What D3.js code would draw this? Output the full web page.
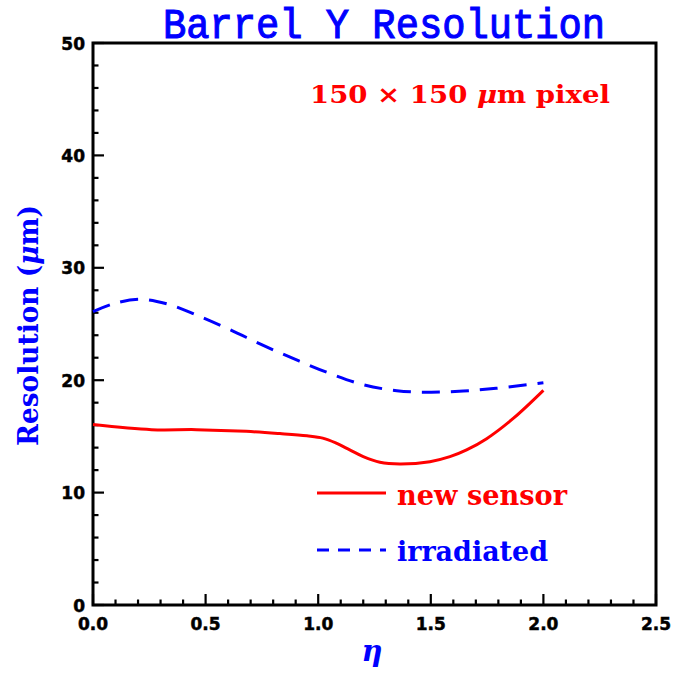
<!DOCTYPE html>
<html>
<head>
<meta charset="utf-8">
<script src="https://cdn.jsdelivr.net/npm/d3@7"></script>
<style>
  html, body { margin: 0; padding: 0; background: #fff; }
  svg { display: block; }
</style>
</head>
<body>
<svg id="chart" width="684" height="673"></svg>
<script>
// Pseudorapidity samples and resolution values (µm)
const etaNew = [0.0, 0.26, 0.46, 0.68, 0.83, 0.95, 1.02, 1.08, 1.14, 1.2, 1.274, 1.363, 1.496, 1.585, 1.659, 1.748, 1.866, 2.0];
const resNew = [16.05, 15.6, 15.6, 15.45, 15.25, 15.05, 14.85, 14.4, 13.8, 13.2, 12.7, 12.55, 12.75, 13.2, 13.8, 14.8, 16.6, 19.1];

const etaIrr = [0.0, 0.09, 0.209, 0.327, 0.46, 0.608, 0.756, 0.904, 1.052, 1.2, 1.349, 1.496, 1.644, 1.79, 2.0];
const resIrr = [26.1, 26.8, 27.2, 26.8, 25.8, 24.5, 23.1, 21.8, 20.6, 19.6, 19.07, 18.93, 19.04, 19.28, 19.78];

const xTicks = [0.0, 0.5, 1.0, 1.5, 2.0, 2.5];
const yTicks = [0, 10, 20, 30, 40, 50];

const seriesNames = ["new sensor", "irradiated"];
const seriesColors = ["#ff0000", "#0000ff"];

const svg = d3.select("#chart");
const m = { left: 93, right: 656, top: 43, bottom: 605 };

const x = d3.scaleLinear().domain([0, 2.5]).range([m.left, m.right]);
const y = d3.scaleLinear().domain([0, 50]).range([m.bottom, m.top]);

// Minor/major ticks drawn inward on the left and bottom axes
const axisColor = "#000";
const g = svg.append("g");

const xMinor = d3.range(0, 2.5001, 0.1);
const yMinor = d3.range(0, 50.001, 2);

g.selectAll(".xtick").data(xMinor).enter().append("line")
  .attr("x1", d => x(d)).attr("x2", d => x(d))
  .attr("y1", y(0))
  .attr("y2", d => y(0) - (Math.abs(d * 2 - Math.round(d * 2)) < 1e-6 ? 11 : 5.5))
  .attr("stroke", axisColor).attr("stroke-width", 2.2);

g.selectAll(".ytick").data(yMinor).enter().append("line")
  .attr("y1", d => y(d)).attr("y2", d => y(d))
  .attr("x1", x(0))
  .attr("x2", d => x(0) + (d % 10 === 0 ? 11 : 5.5))
  .attr("stroke", axisColor).attr("stroke-width", 2.2);

// Frame
g.append("rect")
  .attr("x", m.left).attr("y", m.top)
  .attr("width", m.right - m.left).attr("height", m.bottom - m.top)
  .attr("fill", "none").attr("stroke", axisColor).attr("stroke-width", 3);

// Tick labels
const tickFont = "'DejaVu Sans', sans-serif";
g.selectAll(".xlab").data(xTicks).enter().append("text")
  .attr("x", d => x(d)).attr("y", 630)
  .attr("text-anchor", "middle")
  .attr("font-family", tickFont).attr("font-weight", 700).attr("font-size", 17)
  .attr("stroke", "#000").attr("stroke-width", 0.5)
  .text(d => d.toFixed(1));

g.selectAll(".ylab").data(yTicks).enter().append("text")
  .attr("x", 85).attr("y", d => y(d) + 6.5)
  .attr("text-anchor", "end")
  .attr("font-family", tickFont).attr("font-weight", 700).attr("font-size", 17)
  .attr("stroke", "#000").attr("stroke-width", 0.5)
  .text(d => d);

// Curves
const line = d3.line().x(d => x(d[0])).y(d => y(d[1])).curve(d3.curveCatmullRom.alpha(0.5));

svg.append("path")
  .datum(d3.zip(etaNew, resNew))
  .attr("d", line)
  .attr("fill", "none").attr("stroke", seriesColors[0]).attr("stroke-width", 3);

svg.append("path")
  .datum(d3.zip(etaIrr, resIrr))
  .attr("d", line)
  .attr("fill", "none").attr("stroke", seriesColors[1]).attr("stroke-width", 3)
  .attr("stroke-dasharray", "18,11");

// Title
const serif = "'DejaVu Serif', serif";
svg.append("text")
  .attr("x", 163).attr("y", 38)
  .attr("textLength", 442).attr("lengthAdjust", "spacingAndGlyphs")
  .attr("font-family", "'Liberation Mono', monospace").attr("font-size", 43)
  .attr("fill", "#0000ff").attr("stroke", "#0000ff").attr("stroke-width", 1.1)
  .text("Barrel Y Resolution");

// Pixel size annotation
const ann = svg.append("text")
  .attr("x", 310).attr("y", 103)
  .attr("textLength", 300).attr("lengthAdjust", "spacingAndGlyphs")
  .attr("font-family", serif).attr("font-weight", 700).attr("font-size", 25)
  .attr("fill", "#ff0000");
ann.append("tspan").text("150 × 150 ");
ann.append("tspan").attr("font-style", "italic").text("μ");
ann.append("tspan").text("m pixel");

// Axis titles
svg.append("text")
  .attr("x", 372).attr("y", 661)
  .attr("text-anchor", "middle")
  .attr("font-family", serif).attr("font-style", "italic").attr("font-weight", 700).attr("font-size", 29)
  .attr("fill", "#0000ff")
  .text("η");

const yl = svg.append("text")
  .attr("transform", "translate(38,446) rotate(-90)")
  .attr("textLength", 241).attr("lengthAdjust", "spacingAndGlyphs")
  .attr("font-family", serif).attr("font-weight", 700).attr("font-size", 28)
  .attr("fill", "#0000ff");
yl.append("tspan").text("Resolution (");
yl.append("tspan").attr("font-style", "italic").text("μ");
yl.append("tspan").text("m)");

// Legend
const legendRows = [
  { name: seriesNames[0], color: seriesColors[0], dash: null, yLine: 493, yText: 505, len: 170 },
  { name: seriesNames[1], color: seriesColors[1], dash: "12,9", yLine: 550, yText: 561, len: 151 }
];
legendRows.forEach(r => {
  svg.append("line")
    .attr("x1", 317).attr("x2", 386).attr("y1", r.yLine).attr("y2", r.yLine)
    .attr("stroke", r.color).attr("stroke-width", 3)
    .attr("stroke-dasharray", r.dash);
  svg.append("text")
    .attr("x", 397).attr("y", r.yText)
    .attr("textLength", r.len).attr("lengthAdjust", "spacingAndGlyphs")
    .attr("font-family", serif).attr("font-weight", 700).attr("font-size", 27)
    .attr("fill", r.color)
    .text(r.name);
});
</script>
</body>
</html>
